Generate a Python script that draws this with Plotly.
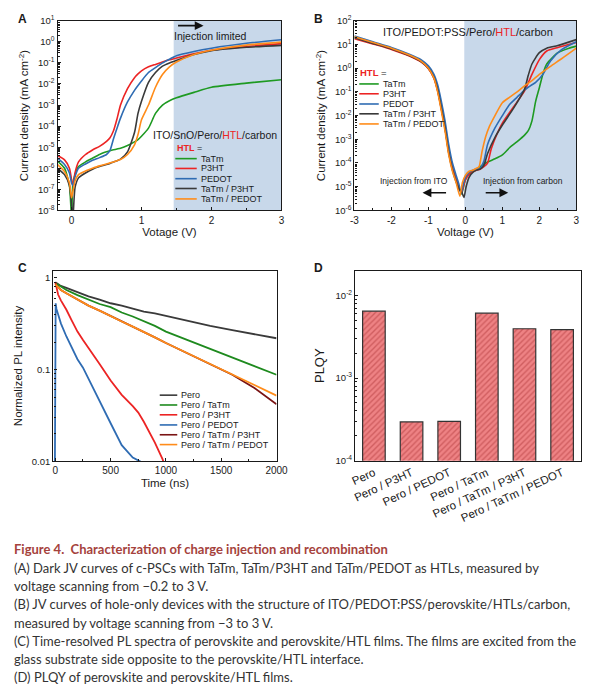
import plotly.graph_objects as go

W, H = 601, 693
FONT = "Arial, Liberation Sans, sans-serif"

# ---------------- data ----------------
htl_names = ["TaTm", "P3HT", "PEDOT", "TaTm / P3HT", "TaTm / PEDOT"]
htl_colors = ["#1e9a22", "#ec2424", "#2f6cb3", "#3a3a3a", "#ff8c1a"]

# Panel A: dark JV (V, mA cm-2)
a_v = [-0.2, -0.1, -0.03, 0.0, 0.02, 0.05, 0.1, 0.2, 0.3, 0.4, 0.5, 0.55, 0.6, 0.65, 0.7, 0.8,
       0.9, 0.95, 1.0, 1.1, 1.2, 1.3, 1.4, 1.5, 1.75, 2.0, 2.5, 3.0]
a_tatm = [2.2e-6, 1.0e-6, 1.5e-7, 5e-9, 2e-7, 5e-7, 1.2e-6, 2e-6, 3e-6, 4.5e-6, 6e-6, 6.8e-6, 7.5e-6, 8.2e-6,
          9e-6, 1.2e-5, 1.8e-5, 2.3e-5, 3.3e-5, 8e-5, 4e-4, 1e-3, 1.6e-3, 2.2e-3, 4e-3, 7e-3, 1.1e-2, 1.6e-2]
a_p3ht = [4e-6, 2.5e-6, 1e-6, 3e-7, 1.5e-7, 6e-7, 2e-6, 4.5e-6, 7.4e-6, 1.1e-5, 1.9e-5, 2.8e-5, 6e-5, 2.2e-4,
          1e-3, 6e-3, 2e-2, 3e-2, 4.2e-2, 6.5e-2, 8.5e-2, 0.11, 0.14, 0.17, 0.27, 0.4, 0.6, 0.82]
a_pedot = [3e-6, 1.5e-6, 6e-7, 2e-7, 1.5e-7, 4e-7, 1e-6, 1.6e-6, 2.4e-6, 3.2e-6, 4.5e-6, 7e-6, 2.5e-5, 8e-5,
           2.4e-4, 1.4e-3, 5e-3, 8.5e-3, 1.4e-2, 3.5e-2, 6e-2, 0.1, 0.15, 0.22, 0.35, 0.5, 0.85, 1.25]
a_tatm_p3ht = [1e-6, 5e-7, 1.5e-7, 2e-8, 5e-9, 1.2e-7, 3.5e-7, 6e-7, 9e-7, 1.2e-6, 1.5e-6, 1.7e-6, 2e-6, 2.3e-6,
               2.7e-6, 6e-6, 5e-5, 4e-4, 1.5e-3, 1.2e-2, 3.5e-2, 7e-2, 0.1, 0.13, 0.25, 0.38, 0.55, 0.68]
a_tatm_pedot = [1.5e-6, 7e-7, 2e-7, 4e-8, 8e-8, 2.5e-7, 5e-7, 7.5e-7, 1e-6, 1.3e-6, 1.6e-6, 1.8e-6, 2e-6, 2.3e-6,
                2.6e-6, 4.5e-6, 1.3e-5, 4e-5, 2e-4, 1e-3, 7e-3, 2.8e-2, 6.5e-2, 0.11, 0.25, 0.4, 0.7, 0.97]
a_series = [a_tatm, a_p3ht, a_pedot, a_tatm_p3ht, a_tatm_pedot]

# Panel B: hole-only JV
b_v_tatm = [-3, -2.5, -2, -1.5, -1.2, -1, -0.85, -0.75, -0.65, -0.55, -0.45, -0.35, -0.25, -0.17, -0.1, -0.05,
            0, 0.1, 0.2, 0.3, 0.4, 0.5, 0.6, 0.8, 1.0, 1.2, 1.4, 1.6, 1.7, 1.8, 1.9, 2.0, 2.1, 2.2, 2.5, 2.8, 3.0]
b_tatm = [20, 11.5, 6.8, 3.4, 2.0, 1.05, 0.42, 0.13, 0.022, 3.2e-3, 3.2e-4, 6.5e-5, 2.2e-5, 9e-6, 5e-6, 1e-5,
          2e-5, 3.5e-5, 4.5e-5, 5.5e-5, 7e-5, 9e-5, 1.1e-4, 1.5e-4, 2.2e-4, 4.5e-4, 8e-4, 1.5e-3, 2.3e-3, 6e-3,
          4e-2, 0.15, 0.6, 1.5, 4.5, 7, 8.5]
b_v_p3ht = [-3, -2.5, -2, -1.5, -1.2, -1, -0.85, -0.75, -0.65, -0.55, -0.45, -0.35, -0.25, -0.17, -0.1, -0.05,
            0, 0.1, 0.2, 0.3, 0.4, 0.5, 0.6, 0.7, 0.85, 1.0, 1.3, 1.6, 1.8, 2.0, 2.2, 2.5, 3.0]
b_p3ht = [17.5, 10.5, 6.2, 3.2, 1.85, 0.95, 0.38, 0.11, 0.019, 2.8e-3, 2.8e-4, 6e-5, 2e-5, 8e-6, 6e-6, 1.1e-5,
          2e-5, 3.3e-5, 4.3e-5, 5e-5, 5.5e-5, 7e-5, 1e-4, 4e-4, 1.6e-3, 4.8e-3, 2.3e-2, 0.11, 0.55, 2.3, 5.3, 7.5, 12]
b_v_pedot = [-3, -2.5, -2, -1.5, -1.2, -1, -0.85, -0.75, -0.65, -0.55, -0.45, -0.35, -0.25, -0.17, -0.12, -0.06,
             0, 0.1, 0.2, 0.3, 0.4, 0.5, 0.6, 0.8, 1.0, 1.2, 1.4, 1.6, 1.8, 1.9, 2.1, 2.3, 2.6, 3.0]
b_pedot = [23, 13, 7.5, 3.8, 2.3, 1.25, 0.55, 0.2, 0.04, 6e-3, 6e-4, 1e-4, 3e-5, 1.2e-5, 5e-6, 1.2e-5,
           2.5e-5, 4e-5, 5e-5, 5.5e-5, 6e-5, 1.2e-4, 6e-4, 3e-3, 1e-2, 3e-2, 6e-2, 0.12, 0.2, 0.25, 0.56, 2, 6, 13]
b_v_tatm_p3ht = [-3, -2.5, -2, -1.5, -1.2, -1, -0.85, -0.75, -0.65, -0.55, -0.45, -0.35, -0.25, -0.17, -0.1, -0.04,
                 0.02, 0.1, 0.2, 0.3, 0.4, 0.5, 0.6, 0.8, 1.0, 1.3, 1.6, 1.7, 1.8, 2.0, 2.2, 2.5, 3.0]
b_tatm_p3ht = [19, 11, 6.5, 3.3, 1.9, 1.0, 0.4, 0.12, 0.02, 2.9e-3, 2.6e-4, 5e-5, 1.6e-5, 8e-6, 6e-6, 3.5e-6,
               1e-5, 2.5e-5, 4e-5, 5e-5, 5.5e-5, 8e-5, 2.5e-4, 1.2e-3, 4e-3, 2e-2, 0.13, 0.5, 1.5, 4.5, 7, 9, 16]
b_v_tatm_pedot = [-3, -2.5, -2, -1.5, -1.2, -1, -0.85, -0.75, -0.65, -0.55, -0.45, -0.35, -0.25, -0.15, -0.08,
                  0, 0.1, 0.2, 0.3, 0.37, 0.45, 0.55, 0.65, 0.8, 1.0, 1.2, 1.4, 1.6, 1.8, 2.0, 2.3, 2.6, 3.0]
b_tatm_pedot = [21, 12, 7, 3.5, 2.0, 1.0, 0.38, 0.1, 0.016, 2.2e-3, 2.2e-4, 4.5e-5, 1.5e-5, 4e-6, 1.5e-5,
                3e-5, 4.5e-5, 5e-5, 6e-5, 7e-5, 3e-4, 1.3e-3, 3.5e-3, 1e-2, 3.5e-2, 6e-2, 0.1, 0.18, 0.3, 0.55,
                1.2, 2.5, 7]
b_v_series = [b_v_tatm, b_v_p3ht, b_v_pedot, b_v_tatm_p3ht, b_v_tatm_pedot]
b_series = [b_tatm, b_p3ht, b_pedot, b_tatm_p3ht, b_tatm_pedot]

# Panel C: TRPL
c_names = ["Pero", "Pero / TaTm", "Pero / P3HT", "Pero / PEDOT", "Pero / TaTm / P3HT", "Pero / TaTm / PEDOT"]
c_colors = ["#3a3a3a", "#1e8a1e", "#ec2424", "#2f6cb3", "#7a1414", "#ff8c1a"]
c_t_slow = [0, 50, 100, 200, 300, 400, 500, 600, 700, 800, 900, 1000, 1200, 1400, 1600, 1800, 2000]
c_pero = [0.9, 0.82, 0.78, 0.7, 0.63, 0.58, 0.53, 0.5, 0.46, 0.43, 0.41, 0.385, 0.34, 0.3, 0.27, 0.245, 0.22]
c_tatm = [0.88, 0.8, 0.74, 0.65, 0.58, 0.52, 0.48, 0.42, 0.38, 0.34, 0.3, 0.26, 0.21, 0.17, 0.135, 0.11, 0.088]
c_tatm_p3ht = [0.86, 0.74, 0.68, 0.58, 0.5, 0.44, 0.385, 0.34, 0.295, 0.26, 0.225, 0.195, 0.15, 0.115, 0.088,
               0.063, 0.042]
c_tatm_pedot = [0.85, 0.74, 0.68, 0.58, 0.5, 0.44, 0.38, 0.335, 0.295, 0.26, 0.225, 0.195, 0.15, 0.117, 0.09,
                0.068, 0.052]
c_t_p3ht = [0, 10, 25, 50, 100, 150, 200, 250, 300, 400, 500, 600, 700, 750, 800, 900, 970, 1000]
c_p3ht = [0.9, 0.78, 0.66, 0.57, 0.45, 0.34, 0.26, 0.21, 0.17, 0.115, 0.076, 0.053, 0.04, 0.034, 0.027, 0.016,
          0.0105, 0.008]
c_t_pedot = [-6, 3, 10, 25, 50, 100, 150, 200, 250, 300, 400, 500, 600, 700, 800, 830]
c_pedot = [0.003, 0.53, 0.46, 0.4, 0.32, 0.23, 0.17, 0.13, 0.105, 0.08, 0.045, 0.026, 0.015, 0.011, 0.0095, 0.008]
c_t_series = [c_t_slow, c_t_slow, c_t_p3ht, c_t_pedot, c_t_slow, c_t_slow]
c_series = [c_pero, c_tatm, c_p3ht, c_pedot, c_tatm_p3ht, c_tatm_pedot]

# Panel D: PLQY
d_cats = ["Pero", "Pero / P3HT", "Pero / PEDOT", "Pero / TaTm", "Pero / TaTm / P3HT", "Pero / TaTm / PEDOT"]
d_plqy = [6.45e-3, 2.95e-4, 3.0e-4, 6.1e-3, 3.95e-3, 3.85e-3]

a_ticks = [-8, -7, -6, -5, -4, -3, -2, -1, 0, 1]
b_ticks = [-6, -5, -4, -3, -2, -1, 0, 1, 2]
d_ticks = [-4, -3, -2]

# ---------------- helpers ----------------
def pxx(x):
    return x / W


def pxy(y):
    return 1 - y / H


def logticks(exps):
    return [10.0 ** e for e in exps], ["10<sup>%d</sup>" % e for e in exps]


INK = "#1a1a1a"


def axis(**kw):
    d = dict(showline=True, linecolor=INK, linewidth=1.3, mirror=True, ticks="inside", ticklen=3,
             tickwidth=1, tickcolor=INK, showgrid=False, zeroline=False,
             tickfont=dict(size=10, color=INK, family=FONT),
             title_font=dict(size=11.5, color=INK, family=FONT))
    d.update(kw)
    return d


fig = go.Figure()

for name, col, ys in zip(htl_names, htl_colors, a_series):
    fig.add_trace(go.Scatter(x=a_v, y=ys, mode="lines", name=name,
                             line=dict(color=col, width=1.6, shape="spline", smoothing=0.6),
                             xaxis="x", yaxis="y", showlegend=False))
for name, col, xs, ys in zip(htl_names, htl_colors, b_v_series, b_series):
    fig.add_trace(go.Scatter(x=xs, y=ys, mode="lines", name=name,
                             line=dict(color=col, width=1.6, shape="spline", smoothing=0.6),
                             xaxis="x2", yaxis="y2", showlegend=False))
for name, col, xs, ys in zip(c_names, c_colors, c_t_series, c_series):
    fig.add_trace(go.Scatter(x=xs, y=ys, mode="lines", name=name, line=dict(color=col, width=1.8),
                             xaxis="x3", yaxis="y3", showlegend=False))
fig.add_trace(go.Bar(x=d_cats, y=d_plqy, width=0.6, xaxis="x4", yaxis="y4", showlegend=False,
                     marker=dict(color="#ee8284", line=dict(color="#333333", width=1.2),
                                 pattern=dict(shape="/", fgcolor="#b23a3c", size=4, solidity=0.35))))

av, at = logticks(a_ticks)
bv, bt = logticks(b_ticks)
dv, dt = logticks(d_ticks)
LOGMINOR = dict(ticks="inside", ticklen=2, tickcolor=INK, dtick="D1")
fig.update_layout(
    xaxis=axis(domain=[pxx(55), pxx(285)], anchor="y", range=[-0.2, 3], tickvals=[0, 1, 2, 3],
               minor=dict(ticks="inside", ticklen=2, dtick=0.5, tickcolor=INK),
               title=dict(text="Votage (V)", standoff=3)),
    yaxis=axis(domain=[pxy(207), pxy(14)], anchor="x", type="log", range=[-8, 1], tickvals=av, ticktext=at,
               tickfont=dict(size=9.5, color=INK, family=FONT), minor=LOGMINOR,
               title=dict(text="Current density (mA cm<sup>-2</sup>)", standoff=6)),
    xaxis2=axis(domain=[pxx(360), pxx(588)], anchor="y2", range=[-3, 3], tickvals=[-3, -2, -1, 0, 1, 2, 3],
                ticktext=["-3", "-2", "-1", "0", "1", "2", "3"],
                minor=dict(ticks="inside", ticklen=2, dtick=0.5, tickcolor=INK),
                title=dict(text="Voltage (V)", standoff=3)),
    yaxis2=axis(domain=[pxy(207), pxy(14)], anchor="x2", type="log", range=[-6, 2], tickvals=bv, ticktext=bt,
                tickfont=dict(size=9.5, color=INK, family=FONT), minor=LOGMINOR,
                title=dict(text="Current density (mA cm<sup>-2</sup>)", standoff=6)),
    xaxis3=axis(domain=[pxx(50.7), pxx(280)], anchor="y3", range=[-18, 2000],
                tickvals=[0, 500, 1000, 1500, 2000],
                minor=dict(ticks="inside", ticklen=2, dtick=250, tickcolor=INK),
                title=dict(text="Time (ns)", standoff=3)),
    yaxis3=axis(domain=[pxy(462.3), pxy(268.3)], anchor="x3", type="log", range=[-2, 0.08],
                tickvals=[0.01, 0.1, 1], ticktext=["0.01", "0.1", "1"], minor=LOGMINOR,
                tickfont=dict(size=9.5, color=INK, family=FONT),
                title=dict(text="Normalized PL intensity", standoff=6)),
    xaxis4=axis(domain=[pxx(360.7), pxx(592.7)], anchor="y4", ticks="", tickangle=-25,
                tickfont=dict(size=11.5, color=INK, family=FONT)),
    yaxis4=axis(domain=[pxy(461.7), pxy(268.3)], anchor="x4", type="log", range=[-4, -1.7],
                tickvals=dv, ticktext=dt, tickfont=dict(size=9.5, color=INK, family=FONT), minor=LOGMINOR,
                title=dict(text="PLQY", standoff=8, font=dict(size=13, color=INK, family=FONT))),
)

shapes = []
shapes.append(dict(type="rect", xref="x", yref="y domain", x0=1.46, x1=3, y0=0, y1=1,
                   fillcolor="#c8d8ea", line=dict(width=0), layer="below"))
shapes.append(dict(type="rect", xref="x2", yref="y2 domain", x0=-0.03, x1=3, y0=0, y1=1,
                   fillcolor="#c8d8ea", line=dict(width=0), layer="below"))

annots = []


def text(x, y, s, size=10, anchor="left", color=INK, bold=False, family=FONT):
    if bold:
        s = "<b>%s</b>" % s
    annots.append(dict(x=pxx(x), y=pxy(y), xref="paper", yref="paper", text=s, showarrow=False,
                       xanchor=anchor, yanchor="middle", font=dict(size=size, color=color, family=family)))


def arrow(xh, y, dx):
    annots.append(dict(x=pxx(xh), y=pxy(y), xref="paper", yref="paper", text="", showarrow=True,
                       ax=dx, ay=0, arrowhead=2, arrowsize=1.1, arrowwidth=1.6, arrowcolor="#111"))


def legend(x0, x1, xt, ys, names, cols, size):
    for yy, n, c in zip(ys, names, cols):
        shapes.append(dict(type="line", xref="paper", yref="paper", x0=pxx(x0), x1=pxx(x1), y0=pxy(yy),
                           y1=pxy(yy), line=dict(color=c, width=1.6)))
        text(xt, yy, n, size=size)


RED = "#ec2424"
text(12, 12, "A", 12, bold=True)
text(316, 12, "B", 12, bold=True)
text(12, 266, "C", 12, bold=True)
text(316, 266, "D", 12, bold=True)

text(212.5, 30, "Injection limited", 10.5, anchor="center")
arrow(205, 19, -27)
text(217, 130, "ITO/SnO/Pero/<span style='color:%s'>HTL</span>/carbon" % RED, 10.5, anchor="center")
text(176, 143.5, "<b><span style='color:%s'>HTL</span></b> =" % RED, 9)
legend(176, 198, 200, [154.3, 164.3, 174.7, 184.7, 195.3], htl_names, htl_colors, 9)

text(477, 25, "ITO/PEDOT:PSS/Pero/<span style='color:%s'>HTL</span>/carbon" % RED, 11, anchor="center")
text(364, 67, "<b><span style='color:%s'>HTL</span></b> =" % RED, 9.5)
legend(365, 385, 387, [78.3, 88.3, 98.7, 108.7, 119], htl_names, htl_colors, 9)
text(421.5, 177, "Injection from ITO", 8.5, anchor="center")
text(533.5, 177, "Injection from carbon", 8.5, anchor="center")
arrow(430, 189, 25)
arrow(518, 189, -24)

legend(160, 178, 180, [395, 405, 415, 425.3, 435.3, 445.3], c_names, c_colors, 9)

CAP = "Lato, Noto Sans, sans-serif"
cap_title = "<b>Figure 4.  Characterization of charge injection and recombination</b>"
cap_lines = [
    "(A) Dark JV curves of c-PSCs with TaTm, TaTm/P3HT and TaTm/PEDOT as HTLs, measured by",
    "voltage scanning from \u22120.2 to 3 V.",
    "(B) JV curves of hole-only devices with the structure of ITO/PEDOT:PSS/perovskite/HTLs/carbon,",
    "measured by voltage scanning from \u22123 to 3 V.",
    "(C) Time-resolved PL spectra of perovskite and perovskite/HTL films. The films are excited from the",
    "glass substrate side opposite to the perovskite/HTL interface.",
    "(D) PLQY of perovskite and perovskite/HTL films.",
]
text(8, 552, cap_title, 13, color="#a5423c", family=CAP)
for i, ln in enumerate(cap_lines):
    text(8, 571 + i * 18.5, ln, 13, color="#333333", family=CAP)

fig.update_layout(width=W, height=H, autosize=False, margin=dict(l=0, r=0, t=0, b=0),
                  paper_bgcolor="white", plot_bgcolor="white", shapes=shapes, annotations=annots,
                  font=dict(family=FONT, color=INK), bargap=0.4, hovermode=False)

fig.write_html("out.html", config={"displayModeBar": False},
               post_script="document.body.style.margin='0';document.body.style.overflow='hidden';")
